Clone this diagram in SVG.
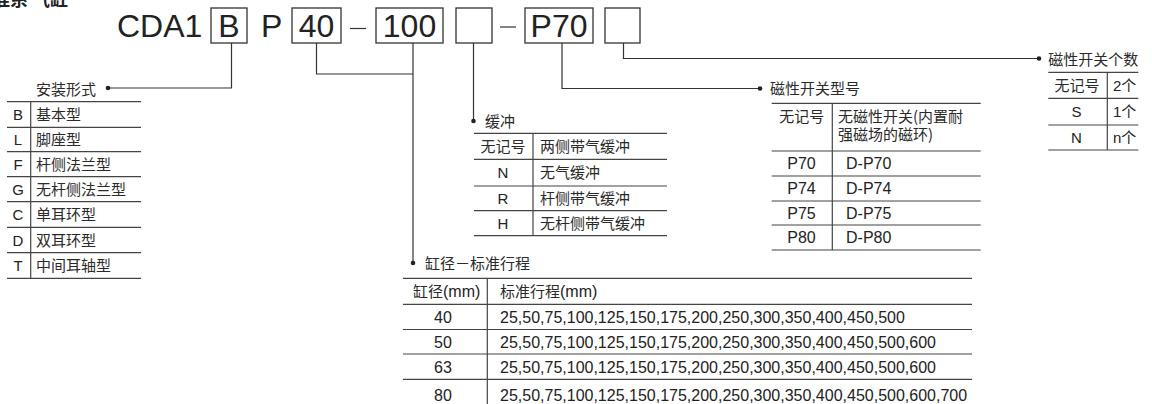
<svg xmlns="http://www.w3.org/2000/svg" width="1152" height="404" viewBox="0 0 1152 404">
<style>
.bg{fill:#fff}
.ln{stroke:#333;stroke-width:1.2;fill:none}
.rule{stroke:#444;stroke-width:1.2;fill:none}
.box{stroke:#333;stroke-width:1.3;fill:#fff}
.dot{fill:#222}
.big{font-family:"Liberation Sans",Arial,sans-serif;font-size:32px;fill:#222}
.dash{stroke:#333;stroke-width:1.2}
.cn{font-family:"Noto Sans CJK SC","Liberation Sans",sans-serif;font-size:15px;fill:#2a2a2a}
.lt{font-family:"Liberation Sans","Noto Sans CJK SC",sans-serif;font-size:15px;fill:#222}
.lt16{font-family:"Liberation Sans","Noto Sans CJK SC",sans-serif;font-size:16px;fill:#222}
.mid{text-anchor:middle}
.title{font-family:"Noto Sans CJK SC",sans-serif;font-size:18px;font-weight:bold;fill:#222}
</style>
<rect class="bg" x="0" y="0" width="1152" height="404"/>
<text class="title" x="-8" y="6">准系 气缸</text>

<g id="model-code">
  <text class="big" x="117" y="37">CDA1</text>
  <rect class="box" x="211" y="8" width="36" height="35"/>
  <text class="big mid" x="229" y="37">B</text>
  <text class="big" x="261" y="37">P</text>
  <rect class="box" x="292" y="8" width="49" height="35"/>
  <text class="big mid" x="316.5" y="37">40</text>
  <line class="dash" x1="350" y1="28.5" x2="366" y2="28.5"/>
  <rect class="box" x="376" y="8" width="67" height="35"/>
  <text class="big mid" x="409.5" y="37">100</text>
  <rect class="box" x="456" y="8" width="36" height="35"/>
  <line class="dash" x1="500" y1="27" x2="516" y2="27"/>
  <rect class="box" x="525" y="8" width="68" height="35"/>
  <text class="big mid" x="559" y="37">P70</text>
  <rect class="box" x="605" y="8" width="35" height="35"/>
</g>

<g id="connectors">
  <polyline class="ln" points="231.5,43 231.5,88 108,88"/>
  <circle class="dot" cx="108" cy="88" r="2.3"/>
  <polyline class="ln" points="316.5,43 316.5,74 413,74"/>
  <polyline class="ln" points="413,43 413,263"/>
  <circle class="dot" cx="413" cy="263" r="2.3"/>
  <polyline class="ln" points="473.5,43 473.5,121"/>
  <circle class="dot" cx="473.5" cy="121" r="2.3"/>
  <polyline class="ln" points="562,43 562,88.5 760,88.5"/>
  <circle class="dot" cx="760" cy="88.5" r="2.3"/>
  <polyline class="ln" points="623.5,43 623.5,58.5 1039,58.5"/>
  <circle class="dot" cx="1039" cy="58.5" r="2.3"/>
</g>

<g id="mounting">
  <text class="cn" x="36" y="95">安装形式</text>
  <line class="rule" x1="7" y1="101.7" x2="141" y2="101.7"/>
  <line class="rule" x1="7" y1="127.3" x2="141" y2="127.3"/>
  <line class="rule" x1="7" y1="151.7" x2="141" y2="151.7"/>
  <line class="rule" x1="7" y1="176.7" x2="141" y2="176.7"/>
  <line class="rule" x1="7" y1="201.7" x2="141" y2="201.7"/>
  <line class="rule" x1="7" y1="227.3" x2="141" y2="227.3"/>
  <line class="rule" x1="7" y1="252.7" x2="141" y2="252.7"/>
  <line class="rule" x1="7" y1="278.3" x2="141" y2="278.3"/>
  <line class="rule" x1="30.7" y1="101.7" x2="30.7" y2="278.3"/>
  <text class="lt mid" x="18" y="120">B</text><text class="cn" x="36" y="120">基本型</text>
  <text class="lt mid" x="18" y="145">L</text><text class="cn" x="36" y="145">脚座型</text>
  <text class="lt mid" x="18" y="169.5">F</text><text class="cn" x="36" y="169.5">杆侧法兰型</text>
  <text class="lt mid" x="18" y="194.5">G</text><text class="cn" x="36" y="194.5">无杆侧法兰型</text>
  <text class="lt mid" x="18" y="220">C</text><text class="cn" x="36" y="220">单耳环型</text>
  <text class="lt mid" x="18" y="245.5">D</text><text class="cn" x="36" y="245.5">双耳环型</text>
  <text class="lt mid" x="18" y="271">T</text><text class="cn" x="36" y="271">中间耳轴型</text>
</g>

<g id="cushion">
  <text class="cn" x="485" y="126.5">缓冲</text>
  <line class="rule" x1="474" y1="133.3" x2="667" y2="133.3"/>
  <line class="rule" x1="474" y1="159.3" x2="667" y2="159.3"/>
  <line class="rule" x1="474" y1="186" x2="667" y2="186"/>
  <line class="rule" x1="474" y1="210.7" x2="667" y2="210.7"/>
  <line class="rule" x1="474" y1="235.7" x2="667" y2="235.7"/>
  <line class="rule" x1="533" y1="133.3" x2="533" y2="235.7"/>
  <text class="cn mid" x="503" y="152">无记号</text><text class="cn" x="540" y="152">两侧带气缓冲</text>
  <text class="lt mid" x="503" y="178">N</text><text class="cn" x="540" y="178">无气缓冲</text>
  <text class="lt mid" x="503" y="203.5">R</text><text class="cn" x="540" y="203.5">杆侧带气缓冲</text>
  <text class="lt mid" x="503" y="228.5">H</text><text class="cn" x="540" y="228.5">无杆侧带气缓冲</text>
</g>

<g id="switch-model">
  <text class="cn" x="770" y="94">磁性开关型号</text>
  <line class="rule" x1="771.7" y1="103.3" x2="980.7" y2="103.3"/>
  <line class="rule" x1="771.7" y1="151" x2="980.7" y2="151"/>
  <line class="rule" x1="771.7" y1="176" x2="980.7" y2="176"/>
  <line class="rule" x1="771.7" y1="201" x2="980.7" y2="201"/>
  <line class="rule" x1="771.7" y1="225" x2="980.7" y2="225"/>
  <line class="rule" x1="771.7" y1="250" x2="980.7" y2="250"/>
  <line class="rule" x1="832.3" y1="103.3" x2="832.3" y2="250"/>
  <text class="cn mid" x="801.7" y="121.5">无记号</text>
  <text class="cn" x="838" y="121.5">无磁性开关(内置耐<tspan x="838" dy="18">强磁场的磁环)</tspan></text>
  <text class="lt16 mid" x="801.5" y="169">P70</text><text class="lt16" x="846" y="169">D-P70</text>
  <text class="lt16 mid" x="801.5" y="194">P74</text><text class="lt16" x="846" y="194">D-P74</text>
  <text class="lt16 mid" x="801.5" y="218.5">P75</text><text class="lt16" x="846" y="218.5">D-P75</text>
  <text class="lt16 mid" x="801.5" y="243">P80</text><text class="lt16" x="846" y="243">D-P80</text>
</g>

<g id="switch-count">
  <text class="cn" x="1048.3" y="64.5">磁性开关个数</text>
  <line class="rule" x1="1048.3" y1="72.3" x2="1138.3" y2="72.3"/>
  <line class="rule" x1="1048.3" y1="98.3" x2="1138.3" y2="98.3"/>
  <line class="rule" x1="1048.3" y1="125" x2="1138.3" y2="125"/>
  <line class="rule" x1="1048.3" y1="150" x2="1138.3" y2="150"/>
  <line class="rule" x1="1107.3" y1="72.3" x2="1107.3" y2="150"/>
  <text class="cn mid" x="1077" y="91">无记号</text><text class="lt" x="1113" y="91">2个</text>
  <text class="lt mid" x="1076.5" y="117">S</text><text class="lt" x="1113" y="117">1个</text>
  <text class="lt mid" x="1076.5" y="143">N</text><text class="lt" x="1113" y="143">n个</text>
</g>

<g id="bore-stroke">
  <text class="cn" x="425" y="268.5">缸径－标准行程</text>
  <line class="rule" x1="403" y1="278.3" x2="972" y2="278.3"/>
  <line class="rule" x1="403" y1="304.3" x2="972" y2="304.3"/>
  <line class="rule" x1="403" y1="329.5" x2="972" y2="329.5"/>
  <line class="rule" x1="403" y1="354" x2="972" y2="354"/>
  <line class="rule" x1="403" y1="379.3" x2="972" y2="379.3"/>
  <line class="rule" x1="487.3" y1="278.3" x2="487.3" y2="404"/>
  <text class="cn" x="413" y="297">缸径<tspan class="lt16">(mm)</tspan></text>
  <text class="cn" x="500" y="297">标准行程<tspan class="lt16">(mm)</tspan></text>
  <text class="lt16 mid" x="443" y="323">40</text><text class="lt16" x="500" y="323">25,50,75,100,125,150,175,200,250,300,350,400,450,500</text>
  <text class="lt16 mid" x="443" y="348">50</text><text class="lt16" x="500" y="348">25,50,75,100,125,150,175,200,250,300,350,400,450,500,600</text>
  <text class="lt16 mid" x="443" y="372.5">63</text><text class="lt16" x="500" y="372.5">25,50,75,100,125,150,175,200,250,300,350,400,450,500,600</text>
  <text class="lt16 mid" x="443" y="400.5">80</text><text class="lt16" x="500" y="400.5">25,50,75,100,125,150,175,200,250,300,350,400,450,500,600,700</text>
</g>
</svg>
